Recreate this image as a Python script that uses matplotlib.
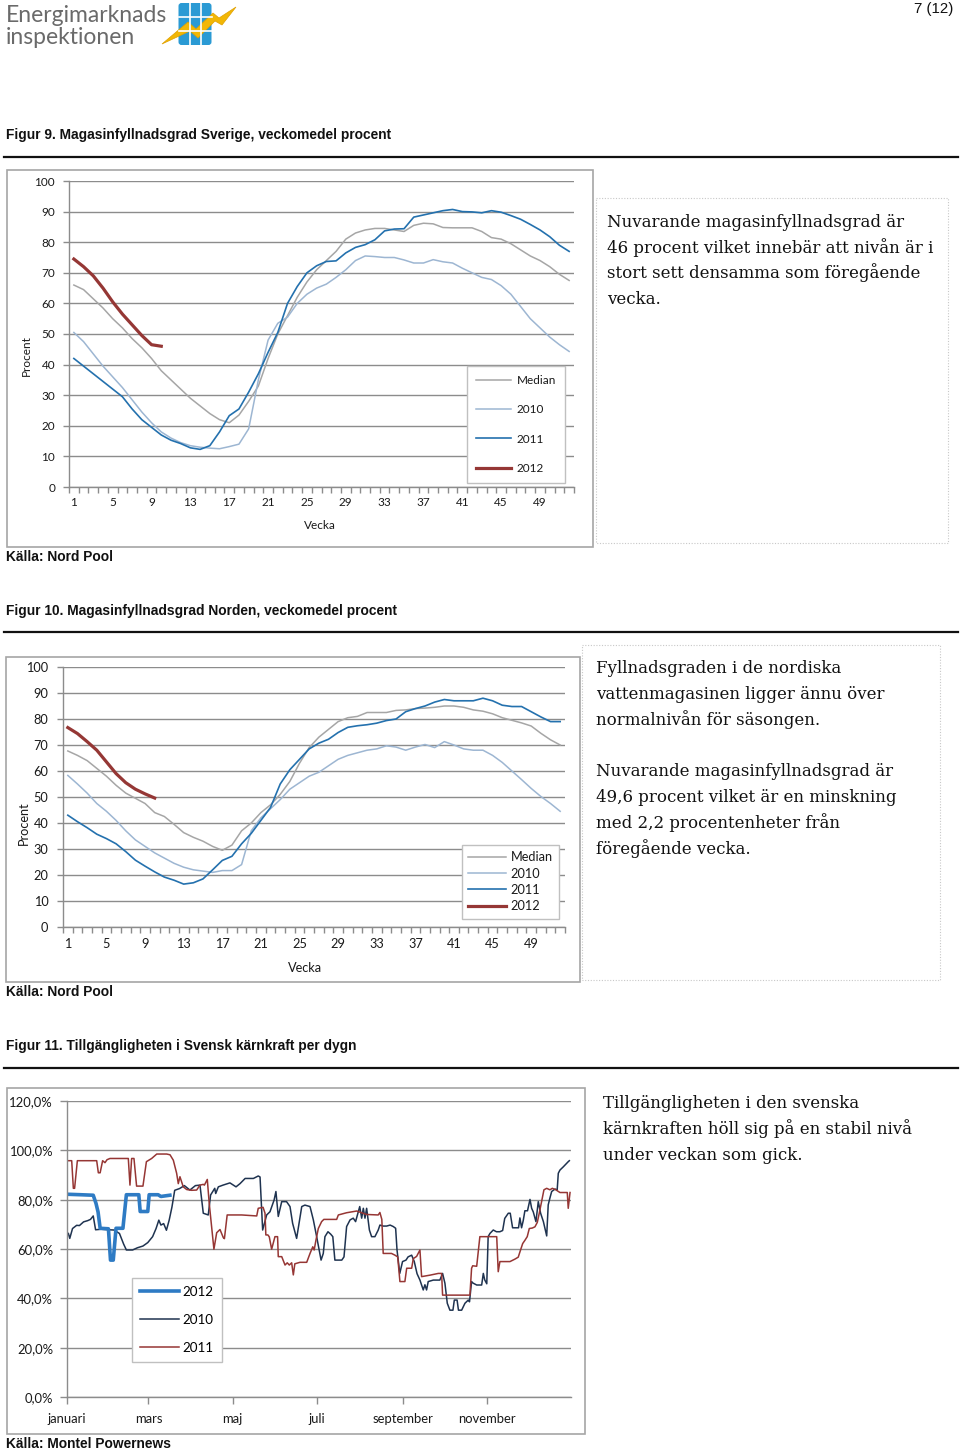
import matplotlib
matplotlib.use('Agg')
import matplotlib.pyplot as plt
import numpy as np
from matplotlib.patches import Rectangle, FancyBboxPatch, Polygon
from matplotlib.ticker import FixedLocator, NullFormatter, FuncFormatter

plt.rcParams['font.family'] = ['Lato', 'DejaVu Sans']

# ---------------- data ----------------
weeks = list(range(1, 53))
week_labels = [1, 5, 9, 13, 17, 21, 25, 29, 33, 37, 41, 45, 49]
series_names = ['Median', '2010', '2011', '2012']

# Figur 9 - Sverige
sv_median = [66, 64.5, 61.5, 58.5, 55, 52, 48.5, 45.5, 42, 38, 35, 32, 29, 26.5, 24, 22, 21, 23.5, 28, 33,
             42, 50, 56, 62, 67, 71, 74, 77, 81, 83, 84, 84.5, 84.5, 84, 83.5, 85.5, 86.2, 86, 84.8, 84.7,
             84.7, 84.7, 83.5, 81.5, 81, 79.5, 77.5, 75.5, 74, 72, 69.5, 67.5]
sv_2010 = [50.5, 47.5, 43.5, 39.5, 36, 32.5, 28.5, 24.5, 21, 18, 16, 14.5, 13.5, 13, 12.7, 12.5, 13.2, 14, 19, 35,
           48, 53.5, 55.5, 60, 63, 65, 66.3, 68.5, 71, 74, 75.5, 75.3, 75, 75, 74.2, 73.2, 73.2, 74.3, 73.6, 73.2,
           71.5, 70, 68.5, 67.8, 65.8, 63, 59, 55, 52, 49, 46.5, 44.3]
sv_2011 = [42, 39.5, 37, 34.5, 32, 29.5, 25.5, 22, 19.5, 17, 15.3, 14.2, 12.8, 12.3, 13.5, 18, 23.3, 25.5, 31, 37,
           44, 50.5, 60, 65.5, 70, 72.3, 73.7, 73.9, 76.5, 78.3, 79.2, 80.8, 83.7, 84.3, 84.4, 88.2, 88.9, 89.6, 90.3, 90.7,
           90, 89.9, 89.6, 90.3, 89.8, 88.7, 87.5, 85.8, 84, 81.8, 79, 77]
sv_2012 = [74.5, 72, 69, 65, 60.5, 56.5, 53, 49.5, 46.5, 46]

# Figur 10 - Norden
no_median = [67.7, 66, 64, 61, 58, 54.5, 51.5, 49.5, 47.5, 44, 42.5, 39.5, 36.3, 34.5, 33, 31, 29.5, 31.5, 37, 40,
             44, 47, 51, 56, 63, 69, 73, 76, 79, 80.5, 81, 82.5, 82.5, 82.5, 83.3, 83.5, 84, 84.2, 84.5, 85,
             85, 84.5, 83.5, 83, 82, 80.5, 79.5, 78.5, 77.3, 74.5, 72, 70]
no_2010 = [58.3, 55, 51.5, 47.5, 44.5, 41, 37, 33.5, 31, 28.5, 26.5, 24.5, 23, 22, 21.5, 21, 21.7, 21.7, 24, 37,
           42, 45.5, 49, 53, 55.5, 58, 59.5, 62, 64.5, 66, 67, 68, 68.5, 69.7, 69.2, 68, 69.2, 70.2, 69, 71.3,
           70, 68.5, 68, 68, 66, 63.3, 60, 56.7, 53.3, 50.2, 47.5, 44.5]
no_2011 = [43, 40.5, 38.2, 35.7, 34, 32, 29, 25.7, 23.4, 21.2, 19.2, 18, 16.5, 17, 18.5, 22, 25.6, 27.2, 32, 36,
           41, 46, 55, 60.5, 64.5, 68.5, 70.7, 72.2, 74.8, 76.8, 77.4, 77.8, 78.4, 79.4, 80, 82.8, 84, 85, 86.5, 87.5,
           87, 87, 87, 88, 87, 85.3, 84.8, 84.8, 82.8, 80.8, 79, 79]
no_2012 = [76.7, 74.4, 71.3, 68, 63.5, 59, 55.5, 53, 51.2, 49.6]

# Figur 11 - kärnkraft tillgänglighet (day of year, percent)
month_dates = ['2011-01-01', '2011-03-01', '2011-05-01', '2011-07-01', '2011-09-01', '2011-11-01']
month_labels = ['januari', 'mars', 'maj', 'juli', 'september', 'november']

kk12_day = [0, 10, 19, 21, 22.5, 24, 30, 31.5, 33.5, 35.5, 40.5, 43, 52, 53, 58.5, 59.5, 66, 68, 74.5]
kk12_val = [82.2, 82, 81.8, 78.5, 75, 68.4, 68.2, 55.5, 55.5, 68.4, 68.4, 82, 82, 75.2, 75.2, 82, 82, 81.3, 81.8]

kk10_day = [1, 2, 4, 7, 9, 12, 15, 17, 19, 20.7, 24.8, 30, 34, 38, 41, 43, 47.5, 51, 55, 58.5,
            62, 64.5, 66.5, 68, 70, 72, 74, 76, 78, 81.5, 85, 89, 93, 96.3, 98.7, 102.3, 104, 107, 107.7, 109.6,
            113, 118, 122.4, 125.3, 129, 135, 138.5, 139.8, 141.7, 144.6, 147, 150, 151.3, 153, 155.5, 159, 161.5, 163.4, 166.3, 170,
            172.3, 176, 178.4, 180.8, 184, 185.6, 186.8, 189, 191, 192.5, 194, 199, 200.6, 202.5, 205, 207.3, 209, 211, 212, 213.4,
            214.6, 215.8, 217, 219, 220.6, 223, 225.4, 226.6, 229, 231.5, 234, 236.3, 238, 239, 241, 243, 245.5, 247,
            249.6, 251.5, 253.5, 255.6, 258, 259.2, 260.4, 261.6, 265.3, 270, 272, 273.7, 275.4, 277.3, 279.5, 280.5, 282.5, 283.5,
            285.8, 288.2, 290.6, 291.5, 293, 294, 296.7, 300.3, 301.5, 302.5, 304, 305, 306.3, 308.7, 311, 313.5, 315.5, 317,
            319.6, 321, 322.7, 327, 328, 329.2, 330.4, 331.6, 333.5, 335.3, 336.5, 337.7, 339.6, 341.3, 343, 345, 347.4, 348.5,
            349.7, 351, 353.4, 355, 355.8, 357, 359.4, 361.8, 363, 363.8]
kk10_val = [66.3, 64.3, 68.3, 69.6, 69.5, 71, 71.5, 72, 73.4, 67.8, 68, 67.8, 67.7, 66.3, 62, 59.6, 59.6, 60.5, 61.2, 62.6,
            65, 68.3, 71.7, 69.7, 70.3, 67.6, 71.7, 77, 83.8, 84.5, 85.7, 83.9, 85.7, 85.9, 74.5, 73.8, 81.9, 84.6, 82.5, 85.2,
            85.9, 86.8, 85.2, 86.5, 88.6, 88.6, 89.6, 89.2, 67.7, 73.8, 75.1, 79.9, 83.3, 73.2, 79.2, 79.2, 77.2, 70.4, 64.3, 77.2,
            77.8, 77.2, 71.8, 65, 55.5, 58.2, 65, 67, 66, 65, 55.5, 55.5, 56.8, 69.1, 71.8, 72.5, 71.1, 75.1, 77.2, 72.5,
            76.5, 72.5, 76.5, 67.7, 65, 65, 67.7, 69.7, 69.3, 69.3, 69.7, 69.1, 68.4, 59.6, 50.1, 54.9, 55.5, 56.8,
            57.5, 54.9, 50, 47.4, 43.4, 45.5, 43.4, 46.8, 47.4, 47.4, 50.1, 46.1, 38, 35.2, 35.2, 39.3, 39.3, 35.2,
            35.2, 38, 39.3, 38.6, 46.8, 46.2, 45.4, 45.4, 50.1, 47.5, 45.9, 65, 66.3, 67.7, 67, 67, 67.5, 72.4,
            74.5, 74.5, 68.6, 68.6, 72.6, 68.6, 71.5, 75.5, 75.5, 80.1, 76.5, 75, 71.1, 79.2, 74.5, 71.1, 65.3, 77.9,
            80.6, 83.3, 84.3, 84, 90.7, 92, 93.3, 94.7, 95.4, 95.8]

kk11_day = [0.2, 3.4, 4.6, 5.5, 7.5, 21.5, 22.7, 24, 25.8, 27.5, 29, 31.1, 44.4, 45.6, 46.8, 48.5, 50.4, 55, 57.5, 61.3,
            65, 72.2, 74.6, 77, 79.4, 80.6, 81.8, 84.2, 86.7, 90.3, 93.9, 96.3, 98.7, 99.5, 101.6, 103, 106.4, 108.4, 110.8, 113.2,
            114, 116, 120.4, 126.5, 137.4, 138.5, 142, 143.4, 144, 145.5, 146.5, 148.2, 150.6, 152.5, 153, 155.5, 157.9, 159.5, 161, 162.7,
            163.9, 165, 168.7, 173.6, 176, 178, 179, 180.3, 182, 184.4, 186, 195.3, 196.5, 202.5, 209.8, 217, 225.4, 226.6, 228, 229,
            235, 237.5, 239.5, 241.1, 244.7, 246, 249.6, 250.8, 253.2, 255.6, 256.8, 262.9, 268.9, 271.3, 272, 291.8, 293, 293.8, 296.7, 299,
            305, 311.2, 312.3, 313.5, 320.8, 324.4, 326.8, 328, 330, 331.6, 333.3, 334.8, 337, 338.9, 340.6, 342, 343.7, 345.4, 347.4, 349.7,
            351.5, 354, 357, 362.3, 363, 363.8, 364.3]
kk11_val = [95.8, 95.8, 84.6, 84.6, 95.8, 95.8, 90.9, 90.9, 95.8, 95, 96.2, 96.7, 96.7, 85.9, 96.7, 96.7, 85.5, 85.5, 95.4, 96.7,
            98.5, 98.5, 98.2, 96, 90.7, 86.5, 89.3, 85.2, 84.1, 83.8, 83.9, 85.9, 86.2, 85.9, 88.2, 78.5, 59.9, 66.6, 67.9, 64.6,
            64.2, 73.8, 73.8, 73.8, 73.4, 76.5, 76.9, 74.5, 65.7, 65.7, 64.9, 59.9, 65, 65, 56.9, 56.9, 53.5, 54.4, 53.5, 54.4,
            49.5, 54, 54.6, 54.6, 58.2, 60.9, 59.6, 63.6, 68.3, 71.1, 72, 72, 73.8, 74.7, 75.4, 74, 73.8, 74.8, 72, 58.2,
            58.2, 57.5, 56.8, 46.8, 46.8, 52.2, 52.2, 56.1, 57, 59.6, 48.8, 49.4, 50.1, 50.1, 41.3, 41.3, 52.2, 53.2, 53, 65,
            65, 65, 50.8, 54.9, 54.9, 55.9, 56.7, 58.8, 62.2, 63.5, 65, 68.3, 68.5, 69, 70.8, 74.5, 79.2, 84, 84.6, 84,
            84.6, 84, 82.9, 82.9, 76.5, 80.5, 82.9]

# ---------------- layout helpers ----------------
W, H = 960, 1452
fig = plt.figure(figsize=(W / 100, H / 100), dpi=100)
fig.patch.set_facecolor('white')


def rect(x0, y0, x1, y1):
    return [x0 / W, 1 - y1 / H, (x1 - x0) / W, (y1 - y0) / H]


page = fig.add_axes([0, 0, 1, 1])
page.set_xlim(0, W)
page.set_ylim(H, 0)
page.axis('off')

TITLE = dict(family=['Liberation Sans', 'DejaVu Sans'], weight='bold', size=9.9, color='#111111')
SERIF = dict(family=['DejaVu Serif'], size=12.0, color='#111111')

# header / logo
page.text(6, 15, 'Energimarknads', fontsize=16.5, color='#6a6a6a', fontweight='normal', va='center', ha='left')
page.text(6, 38, 'inspektionen', fontsize=16.5, color='#6a6a6a', fontweight='normal', va='center', ha='left')
page.add_patch(FancyBboxPatch((178.5, 3), 33, 42, boxstyle='round,pad=0,rounding_size=3',
                              fc='#2a9ad4', ec='none'))
for gx in (189.5, 200.5):
    page.plot([gx, gx], [3, 45], color='white', lw=1.2)
for gy in (17, 31):
    page.plot([178.5, 211.5], [gy, gy], color='white', lw=1.2)
page.add_patch(Polygon([(162, 44), (188, 22), (196, 29), (213, 13), (219, 18), (236, 7),
                        (222, 25), (215, 21), (198, 38), (190, 31)], closed=True,
                       fc='#f2b705', ec='#e0a000', lw=0.5))
page.text(953, 9, '7 (12)', ha='right', va='center', **dict(TITLE, size=10.8, weight='normal'))

# figure titles, rules and sources
page.text(6, 135, 'Figur 9. Magasinfyllnadsgrad Sverige, veckomedel procent', va='center', **TITLE)
page.text(6, 611, 'Figur 10. Magasinfyllnadsgrad Norden, veckomedel procent', va='center', **TITLE)
page.text(6, 1046, 'Figur 11. Tillgängligheten i Svensk kärnkraft per dygn', va='center', **TITLE)
for ry in (157, 632, 1068):
    page.plot([4, 958], [ry, ry], color='#111111', lw=1.6)
page.text(6, 557, 'Källa: Nord Pool', va='center', **TITLE)
page.text(6, 992, 'Källa: Nord Pool', va='center', **TITLE)
page.text(6, 1444, 'Källa: Montel Powernews', va='center', **TITLE)

# chart frames
for (x0, y0, x1, y1) in [(7, 170, 593, 547), (6, 657, 580, 982), (7, 1088, 585, 1434)]:
    page.add_patch(Rectangle((x0, y0), x1 - x0, y1 - y0, fill=False, ec='#a6a6a6', lw=1.2))
# dotted text boxes
for (x0, y0, x1, y1) in [(596, 198, 948, 543), (582, 645, 940, 980)]:
    page.add_patch(Rectangle((x0, y0), x1 - x0, y1 - y0, fill=False, ec='#c8c8c8', lw=0.8, ls=(0, (1, 1.5))))

# side texts
box_texts = [
    (607, [227, 253, 278, 304], ['Nuvarande magasinfyllnadsgrad är', '46 procent vilket innebär att nivån är i',
                                 'stort sett densamma som föregående', 'vecka.']),
    (596, [673, 699, 725, 776, 802, 828, 854], ['Fyllnadsgraden i de nordiska', 'vattenmagasinen ligger ännu över',
                                                'normalnivån för säsongen.', 'Nuvarande magasinfyllnadsgrad är',
                                                '49,6 procent vilket är en minskning', 'med 2,2 procentenheter från',
                                                'föregående vecka.']),
    (603, [1108, 1134, 1160], ['Tillgängligheten i den svenska', 'kärnkraften höll sig på en stabil nivå',
                               'under veckan som gick.']),
]
for x, ys, lines in box_texts:
    for y, s in zip(ys, lines):
        page.text(x, y, s, ha='left', va='baseline', **SERIF)

GRID = '#8c8c8c'
AXC = '#8c8c8c'
TXT = '#1a1a1a'
C_MED, C_10, C_11, C_12 = '#a6a6a6', '#9db6d2', '#2471ae', '#953735'


def week_chart(box, med, y10, y11, y12, fs, xpad, ypad, ylab_xy, xlab_xy, leg_anchor, leg_fs, leg_kw):
    ax = fig.add_axes(rect(*box))
    ax.set_facecolor('none')
    ax.set_xlim(0.5, 52.5)
    ax.set_ylim(0, 100)
    for s in ('top', 'right'):
        ax.spines[s].set_visible(False)
    for s in ('left', 'bottom'):
        ax.spines[s].set_color(AXC)
        ax.spines[s].set_linewidth(1.0)
    ax.set_yticks(np.arange(0, 101, 10))
    ax.yaxis.grid(True, color=GRID, lw=1.0)
    ax.set_axisbelow(True)
    ax.xaxis.set_major_locator(FixedLocator(np.arange(0.5, 53, 1)))
    ax.xaxis.set_major_formatter(NullFormatter())
    ax.xaxis.set_minor_locator(FixedLocator(week_labels))
    ax.set_xticklabels([str(w) for w in week_labels], minor=True)
    ax.tick_params(axis='x', which='major', length=4, color=AXC, width=1)
    ax.tick_params(axis='x', which='minor', length=0, pad=xpad, labelsize=fs, labelcolor=TXT)
    ax.tick_params(axis='y', length=4, color=AXC, width=1, pad=ypad, labelsize=fs, labelcolor=TXT)
    l1, = ax.plot(weeks, med, color=C_MED, lw=1.1)
    l2, = ax.plot(weeks, y10, color=C_10, lw=1.1)
    l3, = ax.plot(weeks, y11, color=C_11, lw=1.2)
    l4, = ax.plot(weeks[:len(y12)], y12, color=C_12, lw=2.3)
    ax.set_ylabel('Procent', fontsize=fs, color=TXT)
    ax.yaxis.set_label_coords(*ylab_xy)
    ax.set_xlabel('Vecka', fontsize=fs, color=TXT)
    ax.xaxis.set_label_coords(*xlab_xy)
    leg = ax.legend([l1, l2, l3, l4], series_names, loc='upper left', bbox_to_anchor=leg_anchor,
                    borderaxespad=0, frameon=True, fancybox=False, edgecolor='#c0c0c0', framealpha=1,
                    fontsize=leg_fs, **leg_kw)
    leg.get_frame().set_linewidth(1.0)
    for t in leg.get_texts():
        t.set_color(TXT)
    return ax


# Figur 9
week_chart((69, 181, 574, 487), sv_median, sv_2010, sv_2011, sv_2012, fs=8.5, xpad=7, ypad=6,
           ylab_xy=(-0.073, 0.43), xlab_xy=(0.497, -0.108), leg_anchor=(0.788, 0.395), leg_fs=8.5,
           leg_kw=dict(handlelength=3.0, handletextpad=0.45, labelspacing=1.55, borderpad=0.75))
# Figur 10
week_chart((63, 667, 565, 927), no_median, no_2010, no_2011, no_2012, fs=9.2, xpad=8, ypad=6.5,
           ylab_xy=(-0.065, 0.40), xlab_xy=(0.482, -0.135), leg_anchor=(0.795, 0.315), leg_fs=9.2,
           leg_kw=dict(handlelength=2.9, handletextpad=0.4, labelspacing=0.33, borderpad=0.5))

# Figur 11
ax3 = fig.add_axes(rect(67, 1101, 571, 1397))
ax3.set_facecolor('none')
ax3.set_xlim(0, 365)
ax3.set_ylim(0, 120)
for s in ('top', 'right'):
    ax3.spines[s].set_visible(False)
for s in ('left', 'bottom'):
    ax3.spines[s].set_color(AXC)
    ax3.spines[s].set_linewidth(1.0)
ax3.set_yticks(np.arange(0, 121, 20))
ax3.yaxis.set_major_formatter(FuncFormatter(lambda v, p: f'{v:.1f}%'.replace('.', ',')))
ax3.yaxis.grid(True, color=GRID, lw=1.0)
ax3.set_axisbelow(True)
month_pos = (np.array(month_dates, dtype='datetime64[D]') - np.datetime64('2011-01-01')).astype(int)
ax3.set_xticks(month_pos)
ax3.set_xticklabels(month_labels)
ax3.tick_params(axis='x', length=5, color=AXC, width=1, pad=6.5, labelsize=9.4, labelcolor=TXT)
ax3.tick_params(axis='y', length=5, color=AXC, width=1, pad=5, labelsize=9.4, labelcolor=TXT)
k2, = ax3.plot(kk10_day, kk10_val, color='#1f3350', lw=1.1)
k3, = ax3.plot(kk11_day, kk11_val, color='#963634', lw=1.1)
k1, = ax3.plot(kk12_day, kk12_val, color='#2e7bc4', lw=2.6, solid_joinstyle='round')
leg3 = ax3.legend([k1, k2, k3], ['2012', '2010', '2011'], loc='upper left', bbox_to_anchor=(0.129, 0.402),
                  borderaxespad=0, frameon=True, fancybox=False, edgecolor='#c0c0c0', framealpha=1, fontsize=9.6,
                  handlelength=2.9, handletextpad=0.3, labelspacing=1.2, borderpad=0.6)
leg3.get_frame().set_linewidth(1.0)

fig.savefig('out.png', dpi=100, facecolor='white')
